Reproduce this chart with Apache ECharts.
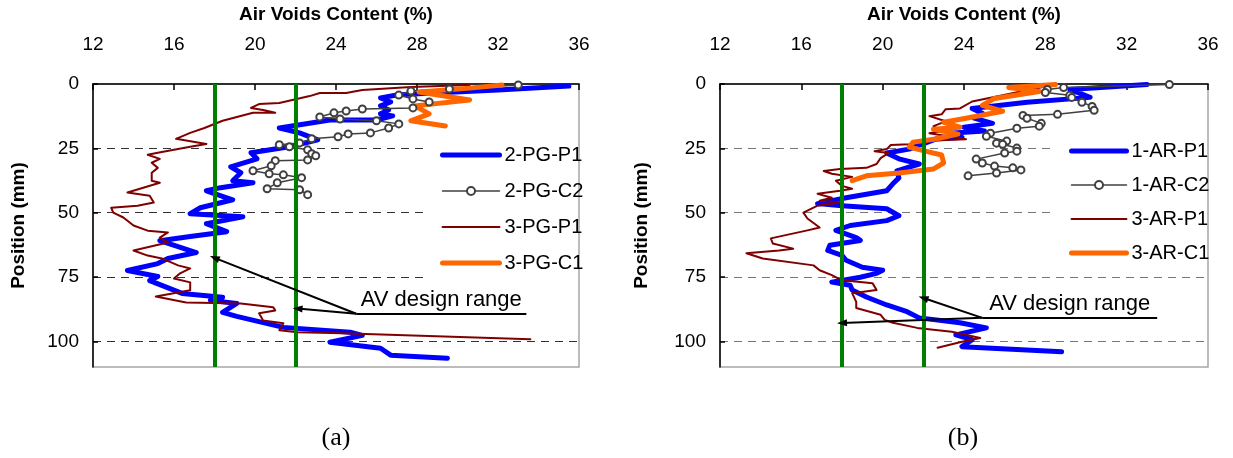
<!DOCTYPE html>
<html>
<head>
<meta charset="utf-8">
<script src="https://cdn.jsdelivr.net/npm/echarts@6/dist/echarts.min.js"></script>
<style>
  html, body { margin: 0; padding: 0; background: #fff; }
  #chart { width: 1233px; height: 458px; }
</style>
</head>
<body>
<div id="chart"></div>
<script>
// Axis settings: air voids (%) across the top, depth (mm) downward
const avMin = 12, avMax = 36, avStep = 4;
const depthMin = 0, depthMax = 110, depthStep = 25;
const designRange = [18, 22];

const pgNames = ['2-PG-P1', '2-PG-C2', '3-PG-P1', '3-PG-C1'];
const arNames = ['1-AR-P1', '1-AR-C2', '3-AR-P1', '3-AR-C1'];

// Profiles as [air voids %, position mm]
const pg2P1 = [[35.5,0.8],[32.0,2.3],[27.8,3.9],[27.0,4.3],[26.2,5.4],[26.7,7.0],[26.2,8.5],[26.6,10.1],[26.2,11.6],[26.8,12.4],[26.0,14.0],[23.7,14.0],[21.2,17.1],[22.2,19.0],[23.1,21.7],[21.7,24.4],[19.8,26.7],[20.1,29.1],[18.8,32.2],[19.3,34.5],[18.9,37.6],[19.9,38.4],[18.3,40.3],[17.6,41.5],[18.9,45.0],[17.3,48.1],[16.8,50.4],[19.4,51.6],[17.6,54.3],[18.6,57.4],[16.8,59.3],[15.3,60.9],[17.1,65.5],[15.7,67.8],[15.2,69.8],[13.7,72.5],[15.2,74.8],[14.8,76.4],[16.4,81.4],[18.4,82.9],[17.8,84.1],[19.1,85.3],[18.4,88.8],[19.1,90.3],[21.4,94.6],[24.7,96.5],[25.3,97.7],[23.7,100.4],[26.2,102.7],[26.7,105.4],[29.5,106.6]];
const pg2C2 = [[33.0,0.4],[29.6,1.9],[27.7,2.7],[27.1,4.3],[27.8,5.8],[28.6,7.0],[27.8,9.3],[25.3,9.7],[24.5,10.5],[23.9,11.2],[23.2,12.8],[24.2,13.6],[26.0,14.3],[27.1,15.5],[26.6,17.1],[25.7,19.0],[24.6,19.4],[24.1,20.5],[22.8,21.3],[22.2,22.9],[21.2,23.6],[21.7,24.4],[22.6,25.6],[22.8,27.1],[23.0,27.9],[22.6,29.5],[21.0,29.8],[20.8,31.8],[19.9,33.7],[20.7,34.9],[21.4,35.3],[22.3,36.4],[21.1,38.4],[20.6,40.7],[22.2,41.1],[22.6,43.0]];
const pg3P1 = [[30.6,0.4],[27.7,1.2],[25.3,2.3],[24.5,3.5],[23.2,3.5],[22.7,4.7],[21.2,7.4],[20.2,7.8],[19.8,9.3],[20.4,10.1],[21.0,11.2],[19.9,11.2],[18.4,14.3],[17.5,17.1],[16.8,19.0],[16.1,21.3],[17.6,23.3],[16.8,24.4],[15.2,26.7],[14.7,27.5],[15.3,29.1],[14.9,30.6],[15.2,32.6],[14.9,34.5],[14.9,37.6],[15.3,38.4],[13.7,42.2],[14.8,43.4],[15.0,46.1],[14.2,47.3],[12.9,48.1],[13.0,50.0],[13.5,51.9],[14.0,55.0],[14.7,57.0],[15.7,57.7],[15.3,59.7],[15.7,61.6],[14.0,64.7],[14.7,66.7],[15.4,67.8],[16.2,70.5],[16.8,71.7],[16.3,73.6],[16.0,75.6],[16.8,77.1],[16.8,80.2],[15.1,82.6],[16.6,84.9],[19.3,85.3],[20.9,86.8],[21.0,88.0],[20.2,89.1],[20.4,91.9],[21.4,93.0],[21.2,95.7],[22.1,96.5],[24.3,96.9],[33.6,99.2]];
const pg3C1 = [[32.2,0.4],[30.6,1.6],[28.1,3.1],[30.6,6.2],[27.9,8.5],[28.6,11.6],[27.7,14.3],[29.4,16.3]];

const ar1P1 = [[33.0,0.2],[29.2,2.1],[30.2,5.2],[27.1,7.1],[24.4,9.5],[24.9,11.4],[24.5,13.3],[25.4,15.3],[24.0,16.8],[25.0,18.3],[23.3,19.1],[23.9,20.7],[22.6,21.4],[21.3,25.3],[20.2,26.8],[20.8,29.1],[21.8,31.1],[20.7,33.8],[20.8,36.5],[20.5,38.8],[20.2,41.5],[18.2,44.2],[16.8,46.5],[18.0,47.3],[20.2,48.5],[20.8,51.2],[20.2,53.1],[18.4,55.0],[17.7,56.9],[18.7,59.7],[18.9,60.8],[17.4,62.7],[17.3,64.7],[18.0,66.6],[18.2,68.5],[19.0,71.2],[20.0,72.4],[19.7,73.6],[18.9,75.1],[17.5,77.0],[18.4,78.2],[18.5,80.1],[19.2,82.8],[20.2,85.9],[21.2,88.5],[21.8,90.9],[23.8,92.8],[25.1,94.8],[23.6,97.5],[24.4,99.4],[23.9,102.1],[28.8,104.1]];
const ar1C2 = [[34.1,0.2],[28.9,1.4],[28.1,2.1],[28.0,3.3],[29.2,4.4],[29.3,5.2],[29.8,7.1],[30.3,8.7],[30.4,10.2],[28.6,11.8],[26.9,12.2],[27.1,13.3],[27.8,15.3],[27.7,16.4],[26.6,17.2],[25.3,19.1],[25.1,20.3],[26.1,22.2],[25.6,23.0],[25.9,23.4],[26.6,24.9],[26.6,26.1],[26.0,26.8],[24.6,29.2],[24.9,30.7],[25.5,31.9],[26.4,32.6],[26.8,33.4],[25.6,34.6],[24.2,35.7]];
const ar3P1 = [[28.0,1.0],[24.4,6.8],[23.8,9.5],[23.1,9.8],[22.9,11.8],[22.3,12.5],[23.1,14.5],[22.5,16.4],[22.9,18.3],[22.3,19.1],[24.1,21.5],[22.5,22.0],[21.3,23.4],[20.4,23.7],[20.2,25.3],[19.6,26.1],[20.3,26.8],[19.9,28.8],[19.7,31.1],[19.2,32.6],[17.9,33.0],[17.1,33.8],[17.5,34.9],[18.5,36.1],[17.7,37.6],[18.0,39.6],[18.5,40.7],[17.9,41.5],[16.8,42.7],[17.5,44.2],[16.9,45.4],[17.9,46.1],[16.8,47.3],[16.1,50.0],[16.3,52.3],[16.9,55.8],[16.3,56.9],[14.5,60.0],[14.6,62.0],[15.6,64.0],[14.9,64.7],[13.3,65.8],[14.1,67.8],[16.6,70.5],[16.9,72.4],[17.5,74.3],[18.0,76.3],[18.9,77.0],[19.5,77.4],[19.7,80.1],[18.5,81.3],[18.7,84.7],[18.7,87.1],[19.9,89.7],[20.1,91.7],[20.5,92.8],[21.7,94.8],[23.4,96.3],[24.8,98.7],[23.9,100.2],[22.7,102.5]];
const ar3C1 = [[28.5,0.2],[26.2,1.4],[27.7,2.9],[25.5,5.6],[24.9,8.3],[25.9,10.6],[24.1,13.3],[23.0,14.9],[23.8,16.8],[22.5,17.6],[23.7,19.5],[22.6,21.4],[21.5,22.6],[21.3,24.5],[22.1,26.1],[22.9,27.6],[23.0,30.7],[22.5,33.0],[20.8,34.6],[19.2,35.7],[18.5,37.6]];

// "AV design range" callout: shared origin, arrow tips on the two limits, underline end
const pgNoteFrom = [25, 89.3];
const pgNoteTips = [[18, 67.6], [22.1, 87.3]];
const pgNoteEnd = 33.4;
const arNoteFrom = [24.9, 90.9];
const arNoteTips = [[22.0, 83.2], [18.0, 92.9]];
const arNoteEnd = 33.5;
const noteText = 'AV design range';

const FONT = '"Liberation Sans", Arial, sans-serif';

// Line looks, in legend order: core P1, core C2 (markers), second P1, second C1
const looks = [
  { color: '#0000ff', width: 5, symbol: 'none' },
  { color: '#404040', width: 1.5, symbol: 'emptyCircle' },
  { color: '#800000', width: 2, symbol: 'none' },
  { color: '#ff6600', width: 5, symbol: 'none' }
];

function profileSeries(idx, names, sets) {
  return names.map((name, i) => ({
    name: name,
    type: 'line',
    xAxisIndex: idx,
    yAxisIndex: idx,
    data: sets[i],
    symbol: looks[i].symbol,
    symbolSize: 7,
    showSymbol: looks[i].symbol !== 'none',
    lineStyle: { color: looks[i].color, width: looks[i].width, cap: 'round', join: 'round' },
    itemStyle: { color: looks[i].color, borderColor: looks[i].color, borderWidth: 1.5 },
    emphasis: { disabled: true },
    z: 2,
    animation: false
  }));
}

function rangeSeries(idx, from, tips, endX) {
  const arrowStyle = { color: '#000', width: 2, type: 'solid' };
  return {
    name: 'range-' + idx,
    type: 'line',
    xAxisIndex: idx,
    yAxisIndex: idx,
    data: [],
    z: 5,
    silent: true,
    animation: false,
    markLine: {
      silent: true,
      animation: false,
      symbol: 'none',
      label: { show: false },
      emphasis: { disabled: true },
      data: [
        ...designRange.map(v => ({ xAxis: v, lineStyle: { color: '#008000', width: 4, type: 'solid' } })),
        ...tips.map(t => [
          { coord: from, symbol: 'none', lineStyle: arrowStyle },
          { coord: t, symbol: 'triangle', symbolSize: [7, 10] }
        ]),
        [
          { coord: from, symbol: 'none', lineStyle: arrowStyle,
            label: { show: true, position: 'insideMiddleTop', distance: 3, formatter: noteText,
                     color: '#000', fontSize: 22, fontFamily: FONT } },
          { coord: [endX, from[1]], symbol: 'none' }
        ]
      ]
    }
  };
}

function xAxisFor(idx) {
  return {
    gridIndex: idx,
    type: 'value',
    position: 'top',
    min: avMin, max: avMax, interval: avStep,
    name: 'Air Voids Content (%)',
    nameLocation: 'middle',
    nameGap: 60,
    nameTextStyle: { fontSize: 19, fontWeight: 'bold', color: '#000', fontFamily: FONT },
    axisLine: { show: true, lineStyle: { color: '#000', width: 1.5 } },
    axisTick: { show: true, inside: true, length: 6, lineStyle: { color: '#000', width: 1.5 } },
    axisLabel: { margin: 30, fontSize: 19, color: '#000', fontFamily: FONT },
    splitLine: { show: false }
  };
}

function yAxisFor(idx, gridColor, gap) {
  return {
    gridIndex: idx,
    type: 'value',
    inverse: true,
    min: depthMin, max: depthMax, interval: depthStep,
    name: 'Position (mm)',
    nameLocation: 'middle',
    nameGap: gap,
    nameTextStyle: { fontSize: 19, fontWeight: 'bold', color: '#000', fontFamily: FONT },
    axisLine: { show: true, lineStyle: { color: '#000', width: 1.5 } },
    axisTick: { show: true, inside: true, length: 5, lineStyle: { color: '#000', width: 1.5 } },
    axisLabel: { margin: 14, fontSize: 19, color: '#000', fontFamily: FONT, showMaxLabel: false },
    splitLine: { show: true, showMinLine: false, showMaxLine: false,
                 lineStyle: { color: gridColor, width: 1.2, type: [8, 6] } }
  };
}

// Legend entries: plain lines of each series' width; the core series keeps its circle marker
function legendFor(names, left, top, gap, iconW) {
  const clear = 'rgba(0,0,0,0)';
  return {
    data: names.map((name, i) => looks[i].symbol === 'none'
      ? { name: name,
          itemStyle: { color: clear, borderColor: clear, borderWidth: 0 },
          lineStyle: { color: looks[i].color, width: looks[i].width, type: 'solid' } }
      : { name: name,
          lineStyle: { color: looks[i].color, width: looks[i].width, type: 'solid' } }),
    orient: 'vertical',
    left: left,
    top: top,
    padding: 0,
    itemGap: gap,
    itemWidth: iconW,
    itemHeight: 10,
    selectedMode: false,
    textStyle: { fontSize: 20, color: '#000', fontFamily: FONT }
  };
}

const chart = echarts.init(document.getElementById('chart'), null, { renderer: 'canvas' });

chart.setOption({
  backgroundColor: '#fff',
  animation: false,
  grid: [
    { left: 93, top: 83, width: 486, height: 284, show: true, borderColor: '#a6a6a6', borderWidth: 1.5 },
    { left: 720, top: 83, width: 488, height: 284, show: true, borderColor: '#a6a6a6', borderWidth: 1.5 }
  ],
  xAxis: [xAxisFor(0), xAxisFor(1)],
  yAxis: [yAxisFor(0, '#333', 65), yAxisFor(1, '#777', 69)],
  legend: [
    legendFor(pgNames, 440, 145, 16, 57),
    legendFor(arNames, 1069, 141, 14, 55)
  ],
  graphic: [
    // white legend panels sit over the dashed depth lines
    { type: 'rect', z: 1, silent: true, shape: { x: 425, y: 132, width: 152, height: 153 }, style: { fill: '#fff' } },
    { type: 'rect', z: 1, silent: true, shape: { x: 1052, y: 135, width: 155, height: 135 }, style: { fill: '#fff' } },
    { type: 'text', x: 336, y: 438, silent: true,
      style: { text: '(a)', fontSize: 26, fontFamily: '"Liberation Serif", "Times New Roman", serif', fill: '#000', align: 'center', verticalAlign: 'middle' } },
    { type: 'text', x: 963, y: 438, silent: true,
      style: { text: '(b)', fontSize: 26, fontFamily: '"Liberation Serif", "Times New Roman", serif', fill: '#000', align: 'center', verticalAlign: 'middle' } }
  ],
  series: [
    ...profileSeries(0, pgNames, [pg2P1, pg2C2, pg3P1, pg3C1]),
    rangeSeries(0, pgNoteFrom, pgNoteTips, pgNoteEnd),
    ...profileSeries(1, arNames, [ar1P1, ar1C2, ar3P1, ar3C1]),
    rangeSeries(1, arNoteFrom, arNoteTips, arNoteEnd)
  ]
});
</script>
</body>
</html>
